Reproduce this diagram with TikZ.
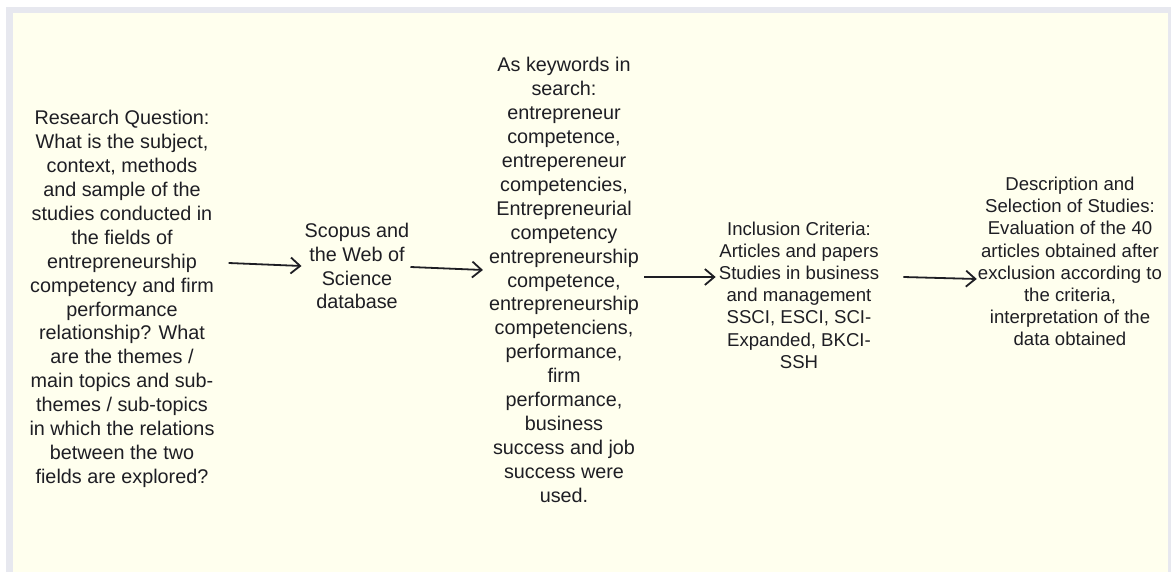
\documentclass[tikz,border=0pt]{standalone}
\usepackage{fontspec}
\setmainfont{Liberation Sans}
\usepackage{xcolor}
\usetikzlibrary{arrows.meta, positioning, calc}
\definecolor{panelcream}{RGB}{255, 255, 238}
\definecolor{framegray}{RGB}{231, 232, 239}
\definecolor{textdark}{RGB}{30, 30, 36}
\tikzstyle{stagetext} = [align=center, inner sep=0pt, text=textdark, font=\fontsize{19.8}{23.9}\selectfont]
\tikzstyle{stagesmall} = [stagetext, font=\fontsize{18.6}{22.2}\selectfont]
\tikzstyle{arrow} = [-{Straight Barb[length=3.3mm, width=5.6mm]}, line width=1.8pt, draw=textdark]

\begin{document}
\begin{tikzpicture}[x=1pt, y=-1pt]
    % Background
    \useasboundingbox (0, 0) rectangle (1171, 572);
    \fill[white] (0, 0) rectangle (1171, 572);
    \fill[framegray] (6, 7) rectangle (1171, 572);
    \fill[panelcream] (13, 13) rectangle (1168, 572);

    % Stages
    \node[stagetext] (question) at (122, 299) {
        Research Question:\\
        What is the subject,\\
        context, methods\\
        and sample of the\\
        studies conducted in\\
        the fields of\\
        entrepreneurship\\
        competency and firm\\
        performance\\
        relationship? What\\
        are the themes /\\
        main topics and sub-\\
        themes / sub-topics\\
        in which the relations\\
        between the two\\
        fields are explored?
    };

    \node[stagetext] (database) at (357, 266) {
        Scopus and\\
        the Web of\\
        Science\\
        database
    };

    \node[stagetext] (keywords) at (564, 280) {
        As keywords in\\
        search:\\
        entrepreneur\\
        competence,\\
        entrepereneur\\
        competencies,\\
        Entrepreneurial\\
        competency\\
        entrepreneurship\\
        competence,\\
        entrepreneurship\\
        competenciens,\\
        performance,\\
        firm\\
        performance,\\
        business\\
        success and job\\
        success were\\
        used.
    };

    \node[stagesmall] (inclusion) at (799, 295) {
        Inclusion Criteria:\\
        Articles and papers\\
        Studies in business\\
        and management\\
        SSCI, ESCI, SCI-\\
        Expanded, BKCI-\\
        SSH
    };

    \node[stagesmall] (selection) at (1070, 261.5) {
        Description and\\
        Selection of Studies:\\
        Evaluation of the 40\\
        articles obtained after\\
        exclusion according to\\
        the criteria,\\
        interpretation of the\\
        data obtained
    };

    % Arrows
    \draw[arrow] ($(question.east)+(14, -36)$) -- ($(database.west)+(-3, 0)$);
    \draw[arrow] ($(database.east)+(1, 1)$) -- ($(keywords.west)+(-6, -10)$);
    \draw[arrow] ($(keywords.east)+(5, -3)$) -- ($(inclusion.west)+(-3, -18)$);
    \draw[arrow] ($(inclusion.east)+(24, -18)$) -- ($(selection.west)+(-1, 17.5)$);
\end{tikzpicture}
\end{document}
